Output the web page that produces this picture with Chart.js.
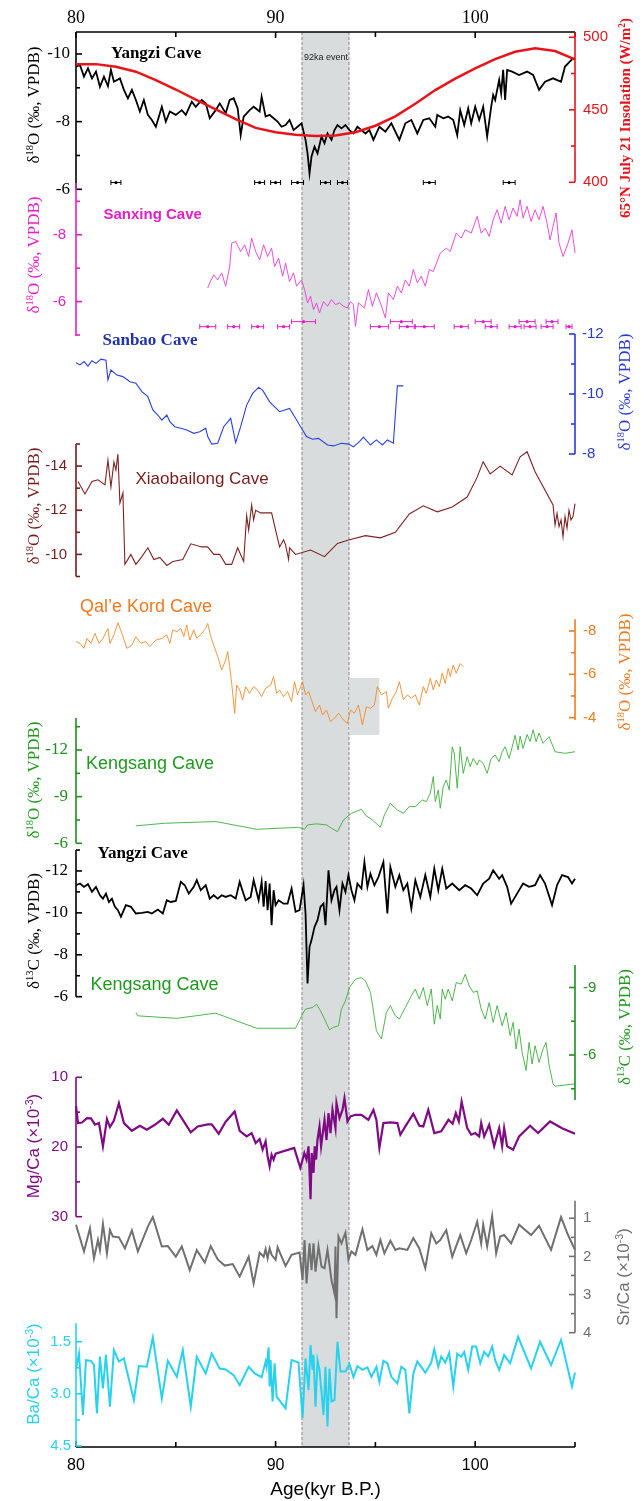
<!DOCTYPE html>
<html><head><meta charset="utf-8">
<script src="https://cdn.jsdelivr.net/npm/chart.js@4.4.1/dist/chart.umd.min.js"></script>
<style>
html,body{margin:0;padding:0;background:#fff;}
#wrap{position:relative;width:644px;height:1501px;overflow:hidden;background:#fff;}
.layer{position:absolute;left:0;width:644px;}
.lbl{position:absolute;white-space:nowrap;line-height:1;transform:translateY(-50%);}
.rot{position:absolute;white-space:nowrap;line-height:1;transform:translate(-50%,-50%) rotate(-90deg);}
sup{font-size:0.62em;vertical-align:0.5em;line-height:0;}
</style></head><body><div id="wrap"></div>
<script>
// ---------------- DATA ----------------
const X_MIN = 80, X_MAX = 105;
const xTickVals = [80, 85, 90, 95, 100, 105];
const xTickLabels = ['80', '', '90', '', '100', ''];
const bandStart = 91.3, bandEnd = 93.7;

// Yangzi Cave d18O [age kyr, permil]
const yangziO18 = [[80.0,-9.63],[80.2,-9.67],[80.4,-9.33],[80.6,-9.58],[80.8,-9.28],[81.0,-9.48],[81.2,-9.03],[81.4,-9.33],[81.6,-9.05],[81.75,-9.53],[81.9,-9.18],[82.2,-9.28],[82.4,-8.94],[82.6,-8.69],[82.8,-8.94],[83.0,-8.64],[83.2,-8.30],[83.4,-8.64],[83.6,-8.20],[83.8,-8.05],[84.0,-7.85],[84.3,-8.44],[84.5,-8.0],[84.7,-8.30],[85.0,-8.20],[85.3,-8.34],[85.5,-8.20],[85.8,-8.59],[86.0,-8.44],[86.3,-8.64],[86.5,-8.54],[86.7,-8.1],[87.0,-8.34],[87.2,-8.54],[87.5,-8.25],[87.7,-8.64],[87.9,-8.69],[88.1,-8.39],[88.25,-7.6],[88.4,-8.15],[88.7,-8.34],[88.9,-8.44],[89.2,-8.30],[89.3,-8.74],[89.5,-8.15],[89.7,-8.20],[89.9,-8.1],[90.1,-8.0],[90.3,-7.85],[90.5,-7.9],[90.7,-8.05],[90.9,-7.75],[91.1,-7.85],[91.3,-7.95],[91.5,-7.46],[91.6,-7.06],[91.7,-6.47],[91.8,-6.97],[91.95,-7.26],[92.1,-7.06],[92.3,-7.56],[92.45,-7.36],[92.6,-7.65],[92.8,-7.46],[92.95,-7.75],[93.1,-7.9],[93.3,-7.8],[93.5,-7.9],[93.7,-7.75],[93.9,-7.65],[94.1,-7.85],[94.3,-7.75],[94.5,-7.65],[94.7,-7.75],[94.9,-7.46],[95.2,-7.85],[95.5,-7.7],[95.8,-7.95],[96.2,-7.46],[96.5,-7.95],[96.8,-8.05],[97.1,-7.65],[97.4,-8.05],[97.7,-8.1],[98.0,-7.85],[98.1,-8.20],[98.4,-8.1],[98.65,-8.15],[98.9,-8.05],[99.1,-7.6],[99.25,-8.34],[99.45,-7.9],[99.65,-8.39],[99.8,-7.95],[100.0,-8.44],[100.2,-8.05],[100.4,-8.44],[100.6,-7.56],[100.8,-8.44],[100.9,-8.79],[101.0,-8.64],[101.2,-9.23],[101.3,-8.84],[101.4,-9.53],[101.5,-8.64],[101.6,-9.53],[101.85,-9.48],[102.2,-9.38],[102.6,-9.48],[102.9,-9.38],[103.2,-8.94],[103.5,-9.18],[103.9,-9.28],[104.3,-9.18],[104.5,-9.63],[104.85,-9.84],[105.0,-9.87]];
// Yangzi dating errors [age, half-width]
const yangziErr = [[82.0,0.25],[89.2,0.25],[90.0,0.25],[91.1,0.3],[92.5,0.25],[93.35,0.25],[97.7,0.3],[101.7,0.3]];
const yangziErrLevel = -6.2;

// 65N July 21 insolation [age, W/m2]
const insolation = [[80,481.4],[81,481.5],[82,479.7],[83,476.3],[84,470.5],[85,464],[86,457],[87,450.3],[88,443.5],[89,437.5],[90,434.5],[91,432.8],[92,432],[93,432.3],[94,434.5],[95,439],[96,445.5],[97,454.2],[98,463.6],[99,471.5],[100,478.6],[101,485],[102,490],[103,492.4],[104,490.5],[105,484.8]];

// Sanxing Cave d18O
const sanxingO18 = [[86.6,-6.41],[86.7,-6.56],[86.9,-6.8],[87.1,-6.65],[87.3,-6.86],[87.5,-6.46],[87.7,-7.05],[87.8,-7.75],[88.0,-7.8],[88.25,-7.5],[88.45,-7.7],[88.65,-7.35],[88.8,-7.9],[89.0,-7.5],[89.2,-7.25],[89.4,-7.7],[89.6,-7.35],[89.8,-7.6],[89.95,-7.05],[90.15,-7.3],[90.35,-6.76],[90.5,-7.15],[90.7,-6.6],[90.9,-6.86],[91.05,-6.46],[91.3,-6.65],[91.45,-6.36],[91.6,-5.96],[91.75,-6.16],[91.9,-5.76],[92.05,-5.96],[92.2,-5.66],[92.4,-6.0],[92.6,-5.86],[92.8,-6.06],[93.0,-5.91],[93.2,-5.96],[93.4,-5.86],[93.6,-5.81],[93.75,-6.0],[93.9,-5.91],[94.0,-5.26],[94.15,-5.96],[94.45,-5.81],[94.65,-6.36],[94.85,-5.86],[95.05,-6.26],[95.25,-5.96],[95.5,-5.51],[95.65,-6.26],[95.9,-6.06],[96.1,-6.46],[96.3,-6.26],[96.5,-6.65],[96.7,-6.46],[96.9,-6.96],[97.1,-6.56],[97.3,-6.76],[97.5,-6.46],[97.7,-6.96],[97.9,-6.9],[98.25,-7.45],[98.55,-7.6],[98.75,-7.5],[99.05,-8.05],[99.3,-7.9],[99.5,-8.15],[99.8,-8.05],[100.1,-8.55],[100.3,-8.05],[100.5,-8.2],[100.7,-7.95],[100.9,-8.45],[101.1,-8.75],[101.3,-8.35],[101.5,-8.85],[101.7,-8.45],[101.9,-8.8],[102.1,-8.55],[102.25,-9.05],[102.4,-8.5],[102.6,-8.85],[102.8,-8.4],[103.0,-8.75],[103.2,-8.45],[103.4,-8.85],[103.6,-8.35],[103.75,-7.85],[103.9,-8.25],[104.05,-8.65],[104.2,-7.75],[104.4,-7.35],[104.65,-7.75],[104.85,-8.15],[105.0,-7.45]];
// Sanxing dating errors [age, half-width, level]
const sanxingErr = [[86.6,0.4,-5.25],[87.9,0.3,-5.25],[89.1,0.3,-5.25],[90.4,0.3,-5.25],[91.4,0.6,-5.4],[95.2,0.45,-5.25],[96.3,0.55,-5.4],[96.6,0.4,-5.25],[97.45,0.5,-5.25],[99.3,0.35,-5.25],[100.4,0.4,-5.4],[100.8,0.3,-5.25],[102.0,0.3,-5.25],[102.6,0.4,-5.4],[102.75,0.3,-5.25],[103.6,0.3,-5.25],[103.85,0.3,-5.4],[104.7,0.15,-5.25]];

// Sanbao Cave d18O
const sanbaoO18 = [[80.0,-11.04],[80.2,-10.97],[80.4,-11.08],[80.6,-10.93],[80.8,-11.11],[81.0,-11.02],[81.25,-11.16],[81.5,-11.13],[81.6,-10.47],[81.75,-10.8],[82.05,-10.63],[82.35,-10.58],[82.7,-10.41],[83.0,-10.36],[83.3,-10.08],[83.6,-9.91],[83.85,-9.47],[84.1,-9.3],[84.3,-9.13],[84.55,-9.3],[84.7,-9.08],[84.95,-8.91],[85.25,-8.86],[85.55,-8.8],[85.9,-8.69],[86.2,-8.74],[86.5,-8.86],[86.6,-8.58],[86.8,-8.33],[87.1,-8.36],[87.4,-8.91],[87.75,-9.19],[88.0,-8.38],[88.25,-8.91],[88.55,-9.63],[88.85,-10.02],[89.15,-10.22],[89.35,-10.13],[89.7,-9.74],[90.2,-9.41],[90.7,-9.52],[91.0,-9.19],[91.35,-8.8],[91.55,-8.58],[91.85,-8.49],[92.15,-8.52],[92.6,-8.3],[92.9,-8.27],[93.3,-8.36],[93.65,-8.33],[93.9,-8.24],[94.2,-8.41],[94.4,-8.56],[94.75,-8.3],[95.05,-8.47],[95.35,-8.3],[95.6,-8.47],[95.9,-8.36],[96.1,-10.27],[96.4,-10.27]];

// Xiaobailong Cave d18O
const xiaobailongO18 = [[80.1,-13.3],[80.45,-12.74],[80.8,-13.3],[81.1,-13.38],[81.45,-13.15],[81.6,-14.27],[81.75,-13.05],[81.9,-14.18],[82.0,-13.82],[82.1,-14.54],[82.2,-12.33],[82.35,-12.78],[82.45,-9.55],[82.75,-10.0],[83.0,-9.55],[83.3,-9.9],[83.6,-10.3],[83.9,-9.77],[84.2,-9.86],[84.55,-9.5],[84.85,-9.68],[85.35,-9.77],[85.75,-10.48],[86.3,-10.34],[86.6,-10.34],[86.9,-10.0],[87.2,-10.0],[87.5,-9.55],[87.8,-9.55],[88.1,-10.3],[88.4,-9.68],[88.55,-11.75],[88.65,-11.1],[88.8,-12.24],[88.9,-11.56],[89.0,-12.0],[89.25,-11.88],[89.8,-11.88],[90.0,-11.1],[90.2,-10.34],[90.4,-10.66],[90.5,-10.43],[90.65,-9.77],[90.7,-10.3],[91.0,-10.0],[91.75,-10.2],[92.45,-9.9],[93.1,-10.5],[93.7,-10.66],[94.5,-10.85],[95.25,-10.75],[96.0,-11.0],[96.7,-11.83],[97.4,-12.2],[98.1,-11.93],[98.85,-12.15],[99.6,-12.6],[100.1,-13.5],[100.4,-14.2],[100.75,-13.64],[101.25,-14.0],[101.85,-13.6],[102.25,-14.42],[102.6,-14.65],[103.0,-13.74],[103.9,-12.24],[104.0,-11.34],[104.1,-11.86],[104.2,-11.26],[104.3,-11.56],[104.4,-10.8],[104.5,-11.71],[104.6,-11.19],[104.7,-12.0],[104.8,-11.56],[104.9,-11.71],[105.0,-12.3]];

// Qal'e Kord Cave d18O
const qalekordO18 = [[80.0,-7.51],[80.2,-7.43],[80.4,-7.2],[80.55,-7.66],[80.75,-7.43],[80.95,-7.89],[81.15,-7.43],[81.35,-7.66],[81.6,-8.12],[81.7,-7.43],[81.9,-7.82],[82.1,-8.38],[82.3,-7.89],[82.55,-7.2],[82.8,-7.35],[83.0,-7.74],[83.25,-7.43],[83.5,-7.51],[83.7,-7.28],[84.0,-7.58],[84.3,-7.66],[84.55,-7.82],[84.7,-7.43],[84.85,-8.05],[85.05,-7.97],[85.25,-8.12],[85.4,-7.74],[85.55,-8.28],[85.7,-7.58],[85.9,-8.05],[86.05,-7.66],[86.3,-7.89],[86.5,-8.12],[86.6,-8.35],[86.75,-7.74],[86.9,-7.35],[87.1,-6.82],[87.3,-6.2],[87.5,-6.66],[87.6,-7.05],[87.7,-6.35],[87.8,-5.58],[87.95,-4.2],[88.05,-5.5],[88.2,-5.28],[88.35,-4.82],[88.5,-5.43],[88.7,-5.12],[88.9,-5.43],[89.1,-5.28],[89.3,-4.97],[89.5,-5.35],[89.75,-5.5],[89.9,-5.89],[90.05,-5.12],[90.2,-5.28],[90.4,-4.97],[90.6,-5.2],[90.8,-4.74],[90.95,-5.66],[91.1,-5.05],[91.35,-5.66],[91.5,-5.05],[91.65,-5.2],[91.8,-4.82],[92.0,-4.28],[92.2,-4.58],[92.35,-4.12],[92.55,-4.35],[92.75,-3.82],[92.95,-3.97],[93.15,-4.2],[93.4,-3.89],[93.6,-3.74],[93.75,-4.35],[93.95,-4.2],[94.15,-4.58],[94.35,-3.66],[94.55,-4.5],[94.75,-4.43],[94.95,-4.58],[95.1,-5.43],[95.3,-5.05],[95.55,-5.2],[95.65,-4.43],[95.85,-4.89],[96.05,-5.2],[96.2,-5.66],[96.4,-4.82],[96.6,-5.05],[96.8,-4.89],[97.0,-5.05],[97.2,-4.58],[97.4,-5.43],[97.55,-5.12],[97.75,-5.82],[97.9,-5.28],[98.05,-5.74],[98.2,-5.43],[98.35,-6.05],[98.5,-5.58],[98.65,-6.28],[98.75,-5.89],[98.9,-6.43],[99.05,-6.05],[99.25,-6.5],[99.4,-6.35]];
// Qal'e Kord highlighted interval [age start, age end, d18O top, d18O bottom]
const qalekordBox = [93.7, 95.2, -5.83, -3.2];

// Kengsang Cave d18O
const kengsangO18 = [[83.0,-7.12],[84.45,-7.29],[87.0,-7.4],[89.05,-6.9],[91.15,-7.03],[91.45,-6.9],[91.6,-7.18],[92.05,-7.25],[92.55,-7.18],[92.8,-6.97],[93.1,-6.75],[93.4,-7.5],[93.8,-7.93],[94.3,-8.19],[94.5,-7.82],[94.85,-7.5],[95.25,-7.03],[95.45,-7.82],[95.75,-8.57],[96.1,-8.14],[96.4,-7.93],[96.7,-8.36],[97.0,-8.36],[97.35,-8.79],[97.55,-8.68],[97.75,-9.22],[97.9,-10.29],[98.0,-8.68],[98.15,-9.43],[98.25,-8.25],[98.4,-9.64],[98.55,-10.07],[98.7,-9.43],[98.85,-12.21],[98.95,-11.79],[99.1,-9.54],[99.25,-12.21],[99.4,-10.5],[99.6,-11.57],[99.75,-10.93],[99.9,-11.46],[100.1,-11.04],[100.2,-11.36],[100.4,-11.14],[100.6,-10.5],[100.8,-11.46],[101.0,-11.68],[101.2,-11.25],[101.35,-11.89],[101.5,-12.21],[101.7,-11.46],[101.9,-12.43],[102.0,-12.95],[102.15,-12.0],[102.25,-12.9],[102.4,-12.1],[102.6,-13.0],[102.75,-12.54],[102.9,-13.3],[103.05,-12.54],[103.2,-13.1],[103.4,-12.43],[103.7,-12.86],[104.0,-11.89],[104.5,-11.79],[105.0,-11.89]];

// Yangzi Cave d13C
const yangziC13 = [[80.0,-11.32],[80.2,-11.4],[80.4,-11.24],[80.6,-11.37],[80.8,-11.0],[81.0,-11.24],[81.2,-10.84],[81.35,-10.68],[81.5,-10.92],[81.65,-10.52],[81.8,-10.68],[81.95,-10.29],[82.1,-10.13],[82.25,-9.81],[82.5,-10.37],[82.75,-10.29],[83.0,-9.97],[83.3,-10.0],[83.6,-10.05],[83.8,-9.97],[84.1,-10.16],[84.35,-9.97],[84.55,-10.6],[84.75,-10.52],[85.0,-10.57],[85.25,-11.48],[85.45,-11.32],[85.65,-10.92],[85.9,-11.24],[86.05,-11.56],[86.25,-11.08],[86.5,-11.32],[86.7,-10.68],[86.9,-10.84],[87.1,-10.68],[87.3,-10.84],[87.5,-10.76],[87.75,-10.84],[88.0,-10.68],[88.2,-11.48],[88.5,-10.6],[88.75,-10.76],[88.9,-11.56],[89.15,-10.6],[89.3,-11.48],[89.4,-10.29],[89.5,-11.52],[89.6,-10.13],[89.7,-11.4],[89.8,-9.41],[89.9,-11.08],[90.0,-10.37],[90.15,-10.6],[90.4,-10.44],[90.6,-10.44],[90.8,-11.16],[91.0,-10.05],[91.2,-10.13],[91.4,-11.32],[91.5,-9.97],[91.6,-6.63],[91.7,-8.38],[91.8,-8.7],[91.95,-9.33],[92.1,-9.65],[92.25,-10.29],[92.4,-10.44],[92.5,-9.41],[92.65,-12.03],[92.8,-10.6],[92.95,-11.08],[93.05,-11.24],[93.2,-10.13],[93.35,-11.4],[93.5,-11.0],[93.65,-11.8],[93.8,-11.08],[93.95,-10.6],[94.1,-11.4],[94.3,-11.16],[94.45,-12.43],[94.6,-11.24],[94.75,-11.87],[94.95,-11.32],[95.15,-11.71],[95.4,-12.43],[95.6,-9.97],[95.75,-12.19],[96.0,-11.24],[96.2,-11.8],[96.4,-11.08],[96.6,-11.4],[96.8,-10.21],[97.0,-11.56],[97.25,-10.76],[97.5,-11.8],[97.75,-10.76],[97.95,-12.11],[98.15,-11.08],[98.35,-12.11],[98.55,-11.16],[98.85,-11.4],[99.2,-11.08],[99.5,-11.32],[99.8,-11.16],[100.1,-10.84],[100.4,-11.4],[100.7,-11.63],[100.9,-12.03],[101.2,-11.63],[101.35,-11.8],[101.6,-11.24],[101.8,-10.44],[102.15,-11.0],[102.4,-11.4],[102.7,-11.24],[103.0,-11.32],[103.25,-11.8],[103.5,-11.4],[103.85,-10.37],[104.1,-11.32],[104.35,-11.8],[104.65,-11.71],[104.85,-11.4],[105.0,-11.63]];

// Kengsang Cave d13C
const kengsangC13 = [[83.0,-7.89],[83.1,-7.74],[85.05,-7.63],[87.0,-7.86],[89.05,-7.19],[91.0,-7.19],[91.35,-7.82],[91.5,-8.04],[91.85,-8.11],[92.05,-8.26],[92.25,-7.97],[92.45,-7.6],[92.7,-7.12],[92.9,-7.23],[93.15,-7.3],[93.3,-8.04],[93.5,-8.41],[93.7,-9.0],[94.0,-9.37],[94.3,-9.44],[94.5,-9.3],[94.75,-8.78],[94.85,-8.26],[95.05,-7.08],[95.3,-6.71],[95.55,-7.89],[95.75,-8.19],[96.0,-7.74],[96.2,-7.6],[96.5,-8.11],[96.8,-8.63],[97.0,-8.93],[97.2,-8.48],[97.4,-9.0],[97.6,-8.19],[97.8,-8.93],[97.95,-7.37],[98.1,-8.2],[98.25,-7.6],[98.35,-8.93],[98.5,-8.48],[98.65,-8.93],[98.85,-8.41],[99.05,-9.22],[99.3,-9.15],[99.5,-9.59],[99.7,-9.07],[99.9,-8.78],[100.1,-8.85],[100.3,-8.04],[100.5,-7.6],[100.7,-8.33],[100.9,-7.45],[101.1,-8.2],[101.35,-7.3],[101.55,-7.89],[101.75,-6.86],[101.9,-7.45],[102.05,-6.27],[102.2,-7.15],[102.35,-6.12],[102.55,-5.31],[102.7,-6.56],[102.85,-5.6],[103.0,-6.41],[103.2,-5.67],[103.4,-6.27],[103.55,-6.56],[103.7,-5.56],[103.9,-4.72],[104.0,-4.61],[105.0,-4.72]];

// Yangzi Cave Mg/Ca (x1e-3)
const mgCa = [[80.0,14.1],[80.1,16.57],[80.3,16.48],[80.55,15.86],[80.75,15.9],[80.95,16.8],[81.15,16.57],[81.35,19.9],[81.55,16.0],[81.7,17.14],[81.9,16.19],[82.15,13.71],[82.4,16.57],[82.8,17.67],[83.2,16.95],[83.55,17.52],[83.95,16.81],[84.35,15.95],[84.65,16.81],[85.05,14.76],[85.4,16.33],[85.75,17.9],[86.1,17.05],[86.6,16.76],[86.8,16.76],[87.15,18.1],[87.5,16.38],[87.95,14.9],[88.2,17.67],[88.55,18.48],[88.8,18.0],[89.0,19.43],[89.2,18.86],[89.35,20.38],[89.5,19.19],[89.6,21.33],[89.7,22.76],[89.8,21.1],[89.9,21.8],[90.0,20.95],[90.93,20.14],[91.24,23.0],[91.44,20.86],[91.55,21.8],[91.65,19.9],[91.69,22.76],[91.75,27.5],[91.81,20.86],[91.9,23.7],[91.96,19.9],[92.03,21.8],[92.1,18.95],[92.2,17.05],[92.28,19.9],[92.45,16.1],[92.55,19.0],[92.65,15.14],[92.75,18.0],[92.85,14.67],[93.0,17.3],[93.05,13.7],[93.2,15.86],[93.35,14.67],[93.45,13.0],[93.6,16.33],[93.75,15.62],[94.0,15.38],[94.3,15.38],[94.65,16.1],[94.9,14.67],[95.05,16.1],[95.2,20.14],[95.4,16.57],[95.75,16.48],[96.1,16.57],[96.25,18.24],[96.5,17.05],[96.9,15.24],[97.2,16.95],[97.4,17.05],[97.65,14.67],[97.95,18.0],[98.3,17.76],[98.66,16.1],[98.87,16.67],[99.03,15.14],[99.18,16.33],[99.32,13.48],[99.6,17.3],[99.8,18.24],[100.0,18.0],[100.2,18.48],[100.3,16.57],[100.45,18.48],[100.7,16.81],[100.95,19.9],[101.2,17.3],[101.35,19.9],[101.45,17.3],[101.6,19.9],[101.9,20.4],[102.2,18.48],[102.75,16.95],[103.15,18.0],[103.75,16.33],[104.35,17.3],[105.0,18.1]];

// Yangzi Cave Sr/Ca (x1e-3)
const srCa = [[80.0,1.17],[80.4,1.87],[80.7,1.26],[80.9,2.05],[81.1,1.57],[81.2,1.83],[81.35,1.15],[81.55,1.92],[81.7,1.31],[81.85,1.48],[82.15,1.5],[82.45,1.79],[82.8,1.32],[83.1,1.87],[83.6,1.22],[83.85,0.97],[84.3,1.74],[84.6,1.73],[85.0,2.01],[85.3,1.74],[85.7,2.36],[86.05,1.83],[86.45,2.16],[86.75,1.73],[87.1,2.08],[87.45,2.24],[87.85,2.2],[88.2,2.53],[88.65,2.01],[88.9,2.71],[89.2,1.9],[89.4,2.01],[89.5,1.81],[89.6,2.05],[89.7,1.79],[89.8,1.96],[90.0,2.09],[90.1,1.76],[90.5,2.25],[90.8,1.96],[91.2,1.9],[91.35,2.62],[91.45,1.57],[91.55,2.71],[91.7,1.66],[91.8,2.36],[91.9,1.66],[92.0,2.4],[92.15,1.74],[92.3,2.27],[92.45,2.31],[92.6,1.83],[92.8,2.62],[92.95,2.97],[93.0,1.74],[93.05,3.62],[93.15,1.48],[93.3,1.66],[93.5,1.38],[93.65,2.09],[93.8,1.87],[94.0,1.96],[94.35,1.29],[94.6,1.83],[94.85,1.73],[95.05,1.96],[95.25,1.57],[95.45,1.92],[95.75,1.59],[96.0,1.83],[96.2,1.79],[96.6,1.83],[96.9,1.52],[97.2,1.79],[97.5,2.31],[97.8,1.39],[98.05,1.66],[98.25,1.57],[98.55,1.31],[98.85,2.01],[99.25,1.44],[99.55,1.92],[99.8,1.57],[100.1,1.09],[100.3,1.66],[100.4,1.17],[100.6,1.74],[100.85,0.94],[101.05,1.92],[101.25,1.48],[101.45,1.44],[101.8,1.66],[102.2,1.17],[102.8,1.44],[103.2,1.2],[103.8,1.83],[104.3,0.97],[104.65,1.44],[105.0,1.83]];

// Yangzi Cave Ba/Ca (x1e-3)
const baCa = [[80.0,2.27],[80.15,1.84],[80.35,3.61],[80.5,2.03],[80.75,2.05],[80.9,2.17],[81.05,3.56],[81.2,1.93],[81.35,2.84],[81.5,1.88],[81.7,3.37],[81.9,1.74],[82.15,2.07],[82.4,1.98],[82.9,3.18],[83.15,2.2],[83.55,2.22],[83.85,1.38],[84.3,3.13],[84.6,2.05],[85.05,2.51],[85.35,1.74],[85.75,3.37],[86.05,1.93],[86.5,2.41],[86.8,1.84],[87.2,2.27],[87.5,2.3],[87.9,2.46],[88.2,2.75],[88.65,2.22],[88.95,2.41],[89.3,2.52],[89.5,2.07],[89.55,2.22],[89.65,1.66],[89.7,2.79],[89.75,2.03],[89.85,3.22],[89.95,2.12],[90.05,3.08],[90.5,3.42],[90.8,2.03],[91.15,2.1],[91.35,3.7],[91.5,1.98],[91.65,2.89],[91.75,1.6],[91.85,2.31],[91.9,1.88],[92.0,3.37],[92.1,2.03],[92.2,2.31],[92.4,3.61],[92.5,2.22],[92.6,3.94],[92.7,2.27],[92.8,3.22],[92.95,3.18],[93.1,1.5],[93.25,2.36],[93.5,2.36],[93.7,2.14],[93.9,2.52],[94.1,2.2],[94.35,2.31],[94.6,2.24],[94.8,2.51],[95.05,2.22],[95.2,2.65],[95.4,2.05],[95.6,2.12],[95.8,2.51],[96.1,2.7],[96.3,2.22],[96.5,2.31],[96.7,3.56],[96.9,2.41],[97.1,2.07],[97.5,2.39],[97.8,2.1],[97.95,1.72],[98.15,2.22],[98.3,1.93],[98.5,2.1],[98.7,1.82],[98.9,2.79],[99.1,1.84],[99.3,1.93],[99.45,1.79],[99.65,2.31],[99.85,1.64],[100.05,1.64],[100.25,2.12],[100.45,1.79],[100.65,1.93],[100.85,1.64],[101.0,2.03],[101.2,2.31],[101.45,1.88],[101.75,2.12],[102.15,1.36],[102.8,2.27],[103.25,1.5],[103.8,2.17],[104.3,1.45],[104.85,2.79],[105.0,2.39]];

// ---------------- LAYOUT / DRAWING ----------------
const W = 644, H = 1501, AREA_L = 76, AREA_R = 575;
const SERIF = '"Liberation Serif", "Times New Roman", serif';
const SANS = '"Liberation Sans", Arial, sans-serif';
const wrap = document.getElementById('wrap');

function axisPlug(o) {
  return { id: 'axisLines', afterDraw(chart) {
    const s = chart.scales.y, ctx = chart.ctx, ca = chart.chartArea;
    const left = o.side === 'left';
    const x = left ? ca.left : ca.right, dir = left ? 1 : -1;
    ctx.save(); ctx.strokeStyle = o.axisColor || o.color; ctx.lineWidth = o.aw || 1.6;
    ctx.beginPath(); ctx.moveTo(x, ca.top); ctx.lineTo(x, ca.bottom); ctx.stroke();
    o.ticks.forEach((v, i) => {
      const y = s.getPixelForValue(v); const len = o.labels[i] ? 6 : 4;
      ctx.beginPath(); ctx.moveTo(x, y); ctx.lineTo(x + dir * len, y); ctx.stroke();
    });
    ctx.restore();
  }};
}
function errPlug(o) {
  return { id: 'errBars', afterDatasetsDraw(chart) {
    const xs = chart.scales.x, ys = chart.scales.y, ctx = chart.ctx;
    ctx.save(); ctx.strokeStyle = o.errColor; ctx.fillStyle = o.errColor; ctx.lineWidth = 1;
    o.errs.forEach(e => {
      const age = e[0], hw = e[1], lvl = e.length > 2 ? e[2] : o.errLevel;
      const x0 = xs.getPixelForValue(age - hw), x1 = xs.getPixelForValue(age + hw);
      const xc = xs.getPixelForValue(age), y = ys.getPixelForValue(lvl);
      ctx.beginPath();
      ctx.moveTo(x0, y); ctx.lineTo(x1, y);
      ctx.moveTo(x0, y - 2.5); ctx.lineTo(x0, y + 2.5);
      ctx.moveTo(x1, y - 2.5); ctx.lineTo(x1, y + 2.5);
      ctx.stroke();
      ctx.beginPath(); ctx.arc(xc, y, 1.6, 0, Math.PI * 2); ctx.fill();
    });
    ctx.restore();
  }};
}
function boxPlug(b) {
  return { id: 'box', beforeDatasetsDraw(chart) {
    const xs = chart.scales.x, ys = chart.scales.y, ctx = chart.ctx;
    const x0 = xs.getPixelForValue(b[0]), x1 = xs.getPixelForValue(b[1]);
    const y0 = ys.getPixelForValue(b[2]), y1 = ys.getPixelForValue(b[3]);
    ctx.save(); ctx.fillStyle = '#dcdfdf'; ctx.fillRect(x0, Math.min(y0, y1), x1 - x0, Math.abs(y1 - y0)); ctx.restore();
  }};
}

function panel(o) {
  const m = 30;
  const ct = Math.max(0, Math.floor(o.top - m));
  const cb = Math.min(H, Math.ceil(o.bottom + m));
  const div = document.createElement('div');
  div.className = 'layer'; div.style.top = ct + 'px'; div.style.height = (cb - ct) + 'px';
  const cv = document.createElement('canvas'); div.appendChild(cv); wrap.appendChild(div);
  const left = o.side === 'left';
  const plugins = [axisPlug(o)];
  if (o.errs) plugins.push(errPlug(o));
  if (o.box) plugins.push(boxPlug(o.box));
  return new Chart(cv, {
    type: 'line',
    data: { datasets: o.series.map(s => ({
      data: s.data.map(p => ({ x: p[0], y: p[1] })),
      borderColor: s.color, borderWidth: s.width, pointRadius: 0, tension: 0, clip: false, fill: false
    })) },
    options: {
      responsive: true, maintainAspectRatio: false, animation: false, events: [],
      layout: { padding: { top: o.top - ct, bottom: cb - o.bottom, left: left ? 0 : AREA_L, right: left ? W - AREA_R : 0 } },
      plugins: { legend: { display: false }, tooltip: { enabled: false } },
      scales: {
        x: { type: 'linear', min: X_MIN, max: X_MAX, display: false },
        y: {
          type: 'linear', position: o.side, min: o.min, max: o.max, reverse: !!o.reverse,
          afterFit: s => { s.width = left ? AREA_L : W - AREA_R; },
          afterBuildTicks: s => { s.ticks = o.ticks.map(v => ({ value: v })); },
          ticks: { autoSkip: false, padding: o.pad, color: o.color, font: { family: o.font, size: o.fs }, callback: (v, i) => o.labels[i] },
          grid: { display: false, drawTicks: false }, border: { display: false }
        }
      }
    },
    plugins
  });
}

// Background: event band + x axes
(function () {
  const div = document.createElement('div');
  div.className = 'layer'; div.style.top = '0px'; div.style.height = H + 'px';
  const cv = document.createElement('canvas'); div.appendChild(cv); wrap.appendChild(div);
  const bandPlug = { id: 'band', beforeDatasetsDraw(chart) {
    const xs = chart.scales.x, ca = chart.chartArea, ctx = chart.ctx;
    const x0 = xs.getPixelForValue(bandStart), x1 = xs.getPixelForValue(bandEnd);
    ctx.save(); ctx.fillStyle = '#d9dcdc'; ctx.fillRect(x0, ca.top, x1 - x0, ca.bottom - ca.top);
    ctx.strokeStyle = '#8c8c8c'; ctx.lineWidth = 1; ctx.setLineDash([3, 2]);
    ctx.beginPath(); ctx.moveTo(x0 + 0.5, ca.top); ctx.lineTo(x0 + 0.5, ca.bottom);
    ctx.moveTo(x1 - 0.5, ca.top); ctx.lineTo(x1 - 0.5, ca.bottom); ctx.stroke(); ctx.restore();
  }};
  const xAxisPlug = { id: 'xaxes', afterDraw(chart) {
    const ctx = chart.ctx, ca = chart.chartArea, xs = chart.scales.x;
    ctx.save(); ctx.strokeStyle = '#000'; ctx.lineWidth = 1.6;
    ctx.beginPath(); ctx.moveTo(ca.left, ca.top); ctx.lineTo(ca.right, ca.top);
    ctx.moveTo(ca.left, ca.bottom); ctx.lineTo(ca.right, ca.bottom); ctx.stroke();
    xTickVals.forEach((v, i) => {
      const x = xs.getPixelForValue(v); const len = xTickLabels[i] ? 6 : 5;
      ctx.beginPath(); ctx.moveTo(x, ca.top); ctx.lineTo(x, ca.top + len);
      ctx.moveTo(x, ca.bottom); ctx.lineTo(x, ca.bottom - len); ctx.stroke();
    });
    ctx.restore();
  }};
  const xCommon = { type: 'linear', min: X_MIN, max: X_MAX, grid: { display: false, drawTicks: false }, border: { display: false } };
  new Chart(cv, {
    type: 'line', data: { datasets: [] },
    options: {
      responsive: true, maintainAspectRatio: false, animation: false, events: [],
      layout: { padding: { left: AREA_L, right: W - AREA_R, top: 0, bottom: 0 } },
      plugins: { legend: { display: false }, tooltip: { enabled: false } },
      scales: {
        x: Object.assign({}, xCommon, { position: 'bottom',
          afterFit: s => { s.height = 54; },
          afterBuildTicks: s => { s.ticks = xTickVals.map(v => ({ value: v })); },
          ticks: { autoSkip: false, maxRotation: 0, padding: 9, color: '#000', font: { family: SANS, size: 16 }, callback: (v, i) => xTickLabels[i] },
          title: { display: true, text: 'Age(kyr B.P.)', color: '#000', font: { family: SANS, size: 19 }, padding: { top: 0, bottom: 0 } } }),
        x2: Object.assign({}, xCommon, { position: 'top',
          afterFit: s => { s.height = 32; },
          afterBuildTicks: s => { s.ticks = xTickVals.map(v => ({ value: v })); },
          ticks: { autoSkip: false, maxRotation: 0, padding: 3, color: '#000', font: { family: SERIF, size: 18 }, callback: (v, i) => xTickLabels[i] } }),
        y: { display: false, min: 0, max: 1 }
      }
    },
    plugins: [bandPlug, xAxisPlug]
  });
})();

// Panels
panel({ top: 32, bottom: 189.3, side: 'left', min: -10.65, max: -6, reverse: true,
  ticks: [-10, -9, -8, -7, -6], labels: ['-10', '', '-8', '', '-6'], color: '#000', font: SERIF, fs: 17, pad: 6,
  series: [{ data: yangziO18, color: '#000', width: 1.8 }], errs: yangziErr, errLevel: yangziErrLevel, errColor: '#000' });
panel({ top: 32, bottom: 182.3, side: 'right', min: 400, max: 503.66,
  ticks: [500, 475, 450, 425, 400], labels: ['500', '', '450', '', '400'], color: '#e8141b', font: SANS, fs: 15, pad: 8,
  series: [{ data: insolation, color: '#e8141b', width: 2.5 }] });
panel({ top: 183, bottom: 336, side: 'left', min: -9.55, max: -4.97, reverse: true,
  ticks: [-9, -8, -7, -6, -5], labels: ['', '-8', '', '-6', ''], color: '#e61ec8', font: SANS, fs: 15, pad: 10,
  series: [{ data: sanxingO18, color: '#e83ad8', width: 0.9 }], errs: sanxingErr, errColor: '#e61ec8' });
panel({ top: 334, bottom: 454, side: 'right', min: -12, max: -8, reverse: true,
  ticks: [-12, -11, -10, -9, -8], labels: ['-12', '', '-10', '', '-8'], color: '#2a3ad8', font: SANS, fs: 15, pad: 7,
  series: [{ data: sanbaoO18, color: '#2a40e0', width: 1.1 }] });
panel({ top: 444, bottom: 576.5, side: 'left', min: -15, max: -9, reverse: true,
  ticks: [-15, -14, -13, -12, -11, -10, -9], labels: ['', '-14', '', '-12', '', '-10', ''], color: '#7a1c1c', font: SANS, fs: 15, pad: 9,
  series: [{ data: xiaobailongO18, color: '#7f2222', width: 1.1 }] });
panel({ top: 619.3, bottom: 720, side: 'right', min: -8.54, max: -3.89, reverse: true,
  ticks: [-8, -7, -6, -5, -4], labels: ['-8', '', '-6', '', '-4'], color: '#ee7a22', font: SANS, fs: 15, pad: 8,
  series: [{ data: qalekordO18, color: '#f08a2a', width: 0.9 }], box: qalekordBox });
panel({ top: 718, bottom: 843.3, side: 'left', min: -14.06, max: -6, reverse: true,
  ticks: [-13.5, -12, -10.5, -9, -7.5, -6], labels: ['', '-12', '', '-9', '', '-6'], color: '#1f8f1f', font: SERIF, fs: 17, pad: 8,
  series: [{ data: kengsangO18, color: '#3cae3c', width: 0.9 }] });
panel({ top: 850, bottom: 996.7, side: 'left', min: -13, max: -6, reverse: true,
  ticks: [-13, -12, -11, -10, -9, -8, -7, -6], labels: ['', '-12', '', '-10', '', '-8', '', '-6'], color: '#000', font: SERIF, fs: 17, pad: 8,
  series: [{ data: yangziC13, color: '#000', width: 1.8 }] });
panel({ top: 965, bottom: 1100, side: 'right', min: -10, max: -4, reverse: true,
  ticks: [-9, -7.5, -6, -4.5], labels: ['-9', '', '-6', ''], color: '#1f8f1f', font: SANS, fs: 15, pad: 8,
  series: [{ data: kengsangC13, color: '#3cae3c', width: 0.9 }] });
panel({ top: 1077.3, bottom: 1216.7, side: 'left', min: 10, max: 30, reverse: true,
  ticks: [10, 15, 20, 25, 30], labels: ['10', '', '20', '', '30'], color: '#7e0a84', font: SANS, fs: 15, pad: 8,
  series: [{ data: mgCa, color: '#7e0a84', width: 2.2 }] });
panel({ top: 1200.7, bottom: 1332.7, side: 'right', min: 0.54, max: 4, reverse: true,
  ticks: [1, 1.5, 2, 2.5, 3, 3.5, 4], labels: ['1', '', '2', '', '3', '', '4'], color: '#707070', font: SANS, fs: 15, pad: 8,
  series: [{ data: srCa, color: '#707070', width: 2 }] });
panel({ top: 1323.3, bottom: 1446, side: 'left', min: 0.97, max: 4.5, reverse: true,
  ticks: [1.5, 2.25, 3.0, 3.75, 4.5], labels: ['1.5', '', '3.0', '', '4.5'], color: '#28d2ef', font: SANS, fs: 15, pad: 5,
  series: [{ data: baCa, color: '#28d2ef', width: 2 }] });

// ---------------- TEXT ----------------
const texts = [
  { t: 'Yangzi Cave', x: 111, y: 52, f: SERIF, s: 17, b: true, c: '#000' },
  { t: 'Sanxing Cave', x: 103.5, y: 213, f: SANS, s: 15, b: true, c: '#e61ec8' },
  { t: 'Sanbao Cave', x: 102.5, y: 339, f: SERIF, s: 17, b: true, c: '#2233aa' },
  { t: 'Xiaobailong Cave', x: 135.5, y: 478, f: SANS, s: 17, b: false, c: '#7a1c1c' },
  { t: 'Qal’e Kord Cave', x: 80, y: 606, f: SANS, s: 18, b: false, c: '#ee7a22' },
  { t: 'Kengsang Cave', x: 86, y: 763, f: SANS, s: 18, b: false, c: '#1f9a1f' },
  { t: 'Yangzi Cave', x: 97.5, y: 852, f: SERIF, s: 17, b: true, c: '#000' },
  { t: 'Kengsang Cave', x: 90.5, y: 984, f: SANS, s: 18, b: false, c: '#1f9a1f' },
  { t: '92ka event', x: 304, y: 57, f: SANS, s: 9, b: false, c: '#222' }
];
const rotTexts = [
  { h: 'δ<sup>18</sup>O (‰, VPDB)', x: 33, y: 105, f: SERIF, s: 17, b: false, c: '#000' },
  { h: '65°N July 21 Insolation (W/m<sup>2</sup>)', x: 625, y: 118, f: SERIF, s: 15, b: true, c: '#e8141b' },
  { h: 'δ<sup>18</sup>O (‰, VPDB)', x: 33, y: 255, f: SERIF, s: 17, b: false, c: '#e61ec8' },
  { h: 'δ<sup>18</sup>O (‰, VPDB)', x: 624, y: 392, f: SERIF, s: 17, b: false, c: '#2a3ad8' },
  { h: 'δ<sup>18</sup>O (‰, VPDB)', x: 33, y: 506, f: SERIF, s: 17, b: false, c: '#7a1c1c' },
  { h: 'δ<sup>18</sup>O (‰, VPDB)', x: 624, y: 672, f: SERIF, s: 17, b: false, c: '#ee7a22' },
  { h: 'δ<sup>18</sup>O (‰, VPDB)', x: 33, y: 780, f: SERIF, s: 17, b: false, c: '#1f9a1f' },
  { h: 'δ<sup>13</sup>C (‰, VPDB)', x: 33, y: 931, f: SERIF, s: 17, b: false, c: '#000' },
  { h: 'δ<sup>13</sup>C (‰, VPDB)', x: 624, y: 1027, f: SERIF, s: 17, b: false, c: '#1f9a1f' },
  { h: 'Mg/Ca (×10<sup>-3</sup>)', x: 33, y: 1146, f: SANS, s: 17, b: false, c: '#7e0a84' },
  { h: 'Sr/Ca (×10<sup>-3</sup>)', x: 623, y: 1277, f: SANS, s: 17, b: false, c: '#707070' },
  { h: 'Ba/Ca (×10<sup>-3</sup>)', x: 33, y: 1374, f: SANS, s: 17, b: false, c: '#28d2ef' }
];
texts.forEach(o => {
  const d = document.createElement('div'); d.className = 'lbl'; d.textContent = o.t;
  Object.assign(d.style, { left: o.x + 'px', top: o.y + 'px', fontFamily: o.f, fontSize: o.s + 'px', fontWeight: o.b ? 'bold' : 'normal', color: o.c });
  wrap.appendChild(d);
});
rotTexts.forEach(o => {
  const d = document.createElement('div'); d.className = 'rot'; d.innerHTML = o.h;
  Object.assign(d.style, { left: o.x + 'px', top: o.y + 'px', fontFamily: o.f, fontSize: o.s + 'px', fontWeight: o.b ? 'bold' : 'normal', color: o.c });
  wrap.appendChild(d);
});
</script></body></html>
